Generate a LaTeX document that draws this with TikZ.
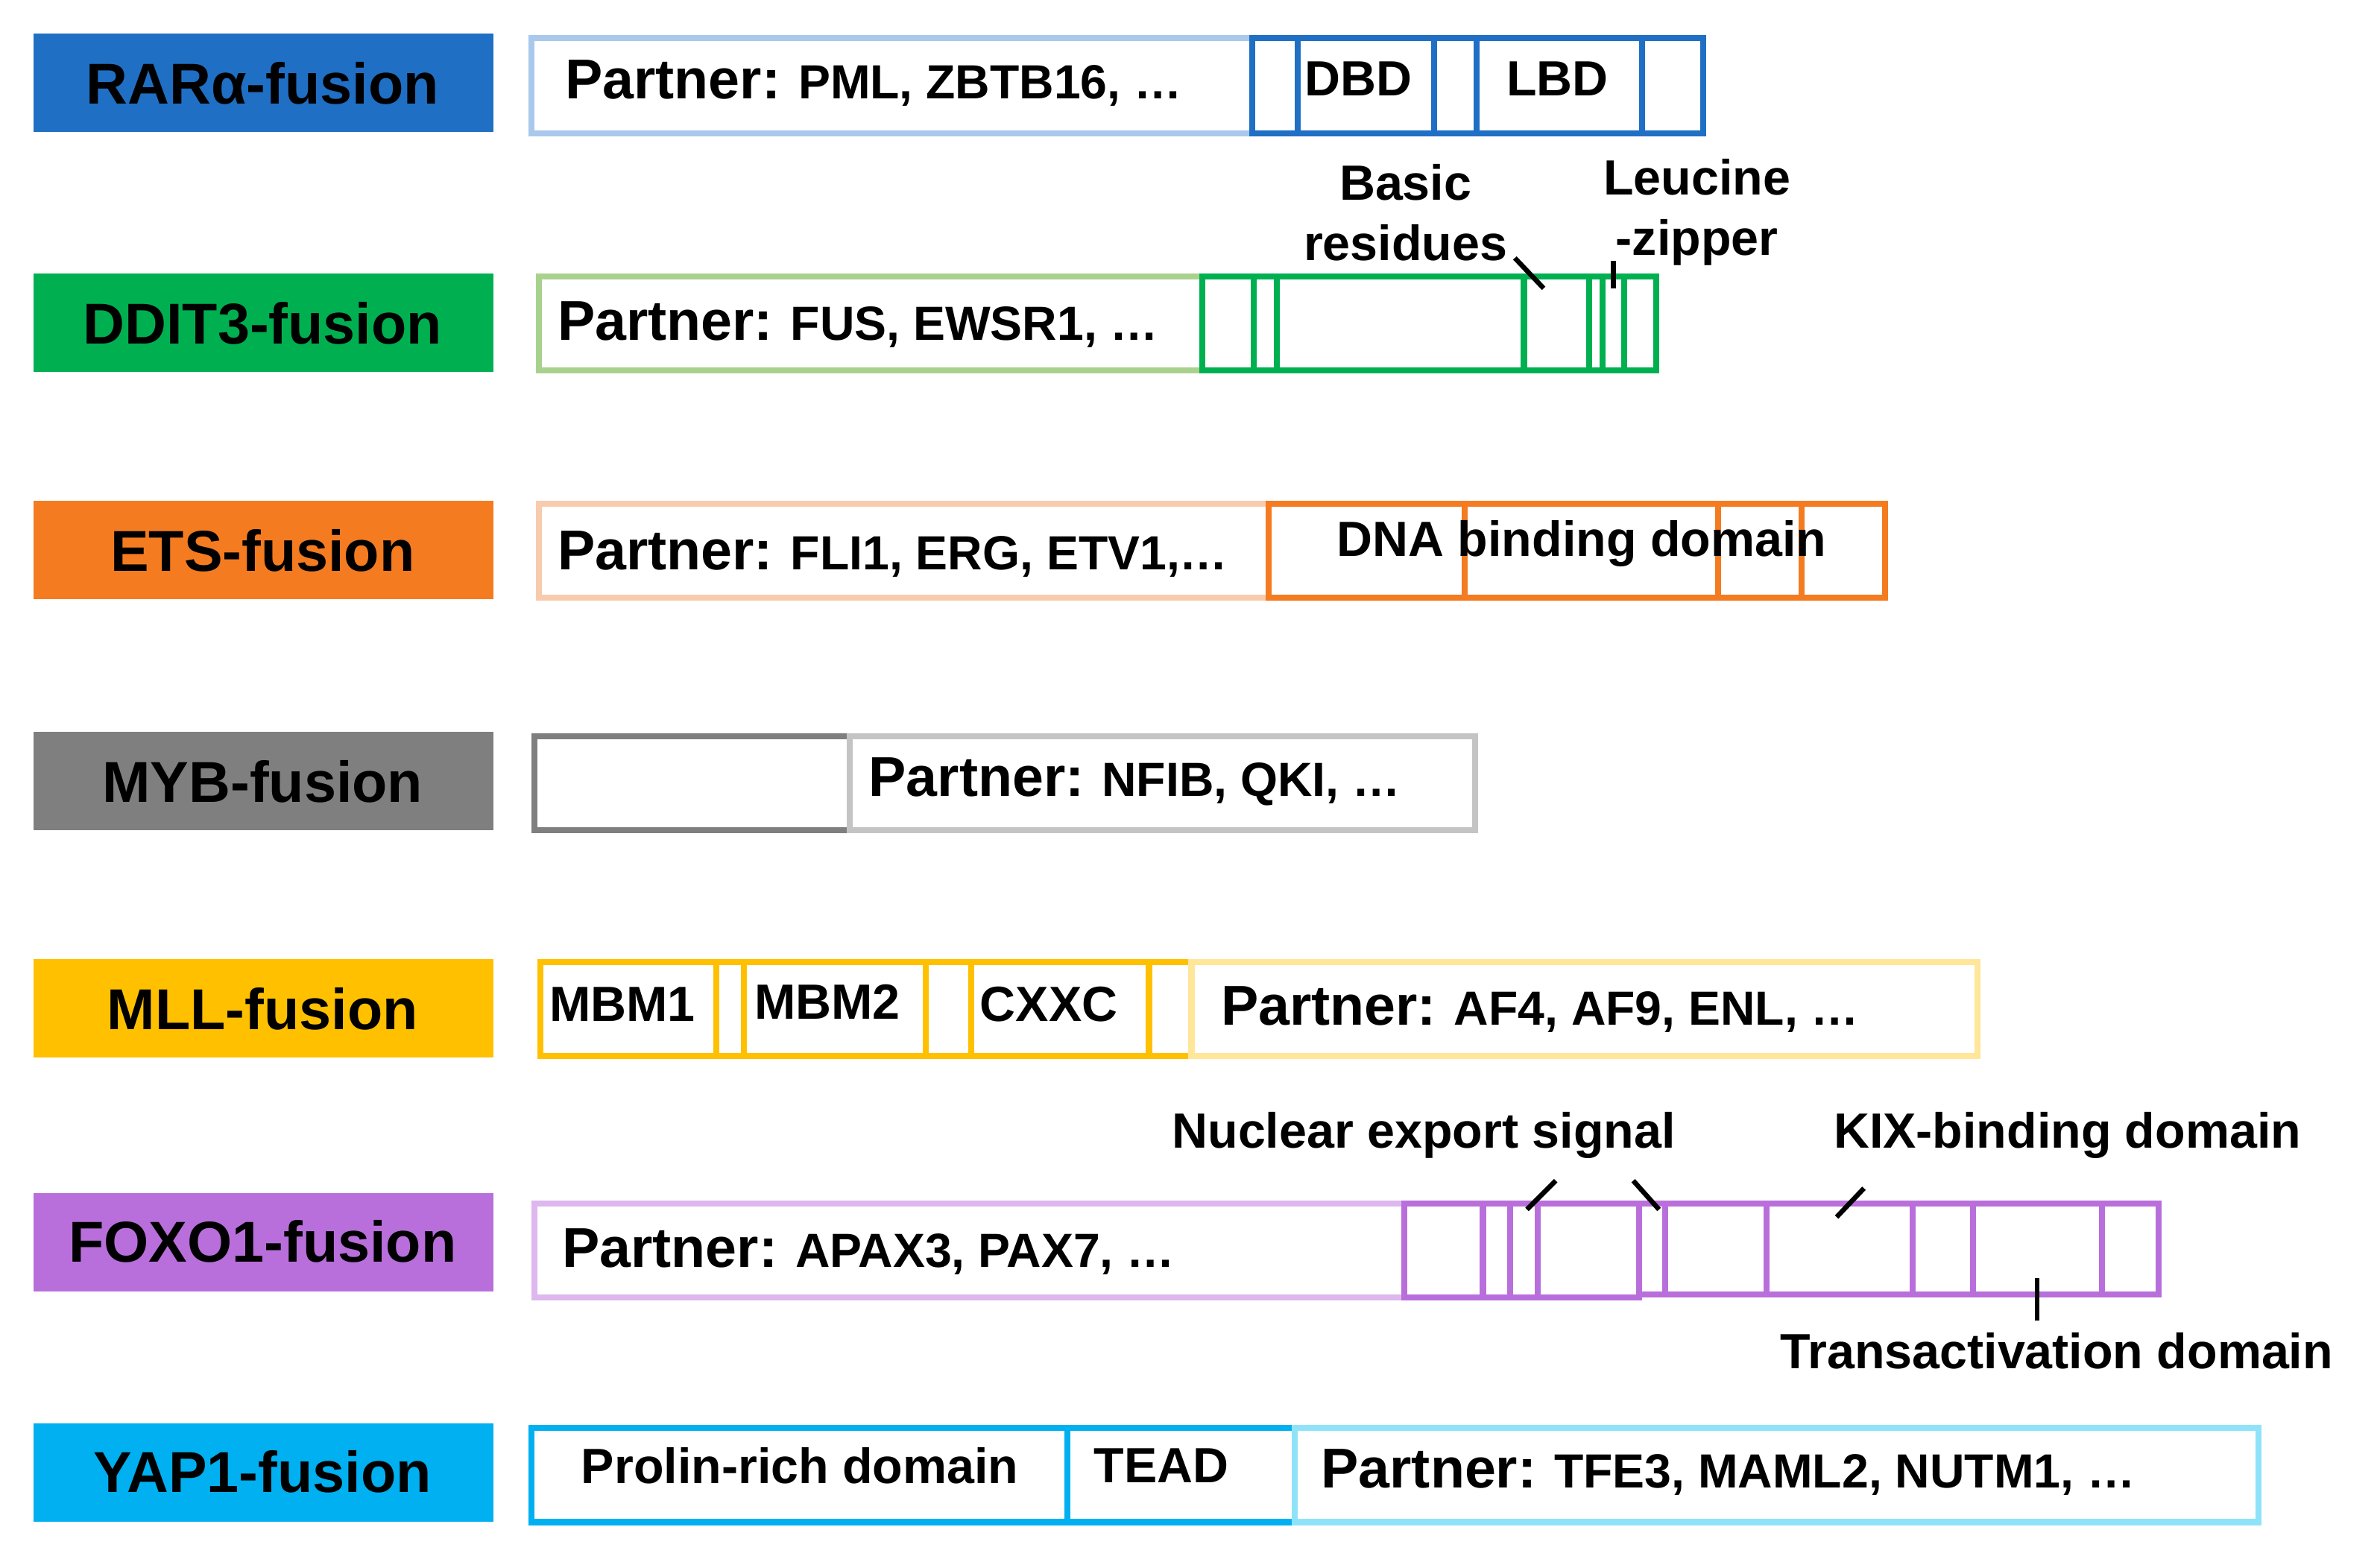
\documentclass[tikz,border=0pt]{standalone}
\usepackage{fontspec}
\setmainfont{Liberation Sans}
\begin{document}
\begin{tikzpicture}[x=0.5pt,y=-0.5pt,
  lab/.style={font=\bfseries\fontsize{19}{21}\selectfont,text=black},
  ptxt/.style={anchor=west,font=\bfseries\fontsize{15.8}{17}\selectfont,inner xsep=0pt},
  ann/.style={font=\bfseries\fontsize{16.3}{20}\selectfont,align=center},
  box/.style={line width=2pt},
  tick/.style={line width=1.6pt}]
\useasboundingbox (0,0) rectangle (1568,1029);
\newcommand{\ptn}[1]{{\fontsize{18.5}{20}\selectfont Partner:} #1}
% colours
\definecolor{cB}{HTML}{1F6FC5}\definecolor{lB}{HTML}{A9C8EC}
\definecolor{cG}{HTML}{00B050}\definecolor{lG}{HTML}{A9D18E}
\definecolor{cO}{HTML}{F47B20}\definecolor{lO}{HTML}{F8CBAD}
\definecolor{cY}{HTML}{7F7F7F}\definecolor{lY}{HTML}{C4C4C4}
\definecolor{cM}{HTML}{FFC000}\definecolor{lM}{HTML}{FFE699}
\definecolor{cF}{HTML}{B96FDB}\definecolor{lF}{HTML}{DDB7EE}
\definecolor{cC}{HTML}{00B0F0}\definecolor{lC}{HTML}{8FE3F8}
% labels
\foreach \c/\ya/\yb in {cB/22/87, cG/180/245, cO/330/395, cY/482/547, cM/632/697, cF/786/851, cC/938/1003}
  \fill[\c] (22,\ya) rectangle (325,\yb);
\node[lab] (l1) at (173,55) {RARα-fusion};
\node[lab] (l2) at (173,213) {DDIT3-fusion};
\node[lab] (l3) at (173,363) {ETS-fusion};
\node[lab] (l4) at (173,515) {MYB-fusion};
\node[lab] (l5) at (173,665) {MLL-fusion};
\node[lab] (l6) at (173,818) {FOXO1-fusion};
\node[lab] (l7) at (173,970) {YAP1-fusion};
% RAR
\draw[box,lB] (350,25) rectangle (825,88);
\draw[box,cB] (825,25) rectangle (1122,88);
\foreach \x in {855,945,973,1082} \draw[box,cB] (\x,25) -- (\x,88);
\node[ptxt] (p1) at (372,55) {\ptn{PML, ZBTB16, \dots}};
\node[ann] (dbd) at (895,52) {DBD};
\node[ann] (lbd) at (1026,52) {LBD};
% DDIT3
\draw[box,lG] (355,182) rectangle (792,244);
\draw[box,cG] (792,182) rectangle (1091,244);
\foreach \x in {826,841,1004,1047,1056,1070} \draw[box,cG] (\x,182) -- (\x,244);
\node[ptxt] (p2) at (367,214) {\ptn{FUS, EWSR1, \dots}};
\node[ann] (br) at (926,140) {Basic\\residues};
\node[ann] (lz) at (1118,140) {Leucine\\-zipper};
\draw[tick] (998,170) -- (1017,190);
\draw[tick] (1063,172) -- (1063,190);
% ETS
\draw[box,lO] (355,332) rectangle (836,394);
\draw[box,cO] (836,332) rectangle (1242,394);
\foreach \x in {965,1132,1187} \draw[box,cO] (\x,332) -- (\x,394);
\node[ptxt] (p3) at (367,365) {\ptn{FLI1, ERG, ETV1,\dots}};
\node[ann] (dna) at (1042,358) {DNA binding domain};
% MYB
\draw[box,cY] (352,485) rectangle (560,547);
\draw[box,lY] (560,485) rectangle (972,547);
\node[ptxt] (p4) at (572,515) {\ptn{NFIB, QKI, \dots}};
% MLL
\draw[box,cM] (356,634) rectangle (785,696);
\foreach \x in {472,490,610,640,757} \draw[box,cM] (\x,634) -- (\x,696);
\draw[box,lM] (785,634) rectangle (1303,696);
\node[ann] (m1) at (410,662) {MBM1};
\node[ann] (m2) at (545,660) {MBM2};
\node[ann] (cx) at (691,662) {CXXC};
\node[ptxt] (p5) at (804,665) {\ptn{AF4, AF9, ENL, \dots}};
% FOXO1
\draw[box,lF] (352,793) rectangle (925,855);
\draw[box,cF] (925,793) rectangle (1080,855);
\draw[box,cF] (1080,793) rectangle (1422,853);
\foreach \x in {977,995,1013,1097,1164,1260,1300,1385} \draw[box,cF] (\x,793) -- (\x,854);
\node[ptxt] (p6) at (370,825) {\ptn{APAX3, PAX7, \dots}};
\node[ann] (nes) at (938,748) {Nuclear export signal};
\node[ann] (kix) at (1362,748) {KIX-binding domain};
\node[ann] (tad) at (1355,890) {Transactivation domain};
\draw[tick] (1006,797) -- (1025,778);
\draw[tick] (1076,778) -- (1093,797);
\draw[tick] (1210,802) -- (1228,783);
\draw[tick] (1342,842) -- (1342,870);
% YAP1
\draw[box,cC] (350,941) rectangle (853,1003);
\draw[box,cC] (703,941) -- (703,1003);
\draw[box,lC] (853,941) rectangle (1488,1003);
\node[ann] (pr) at (527,966) {Prolin-rich domain};
\node[ann] (te) at (765,966) {TEAD};
\node[ptxt] (p7) at (870,970) {\ptn{TFE3, MAML2, NUTM1, \dots}};
\end{tikzpicture}
\end{document}
